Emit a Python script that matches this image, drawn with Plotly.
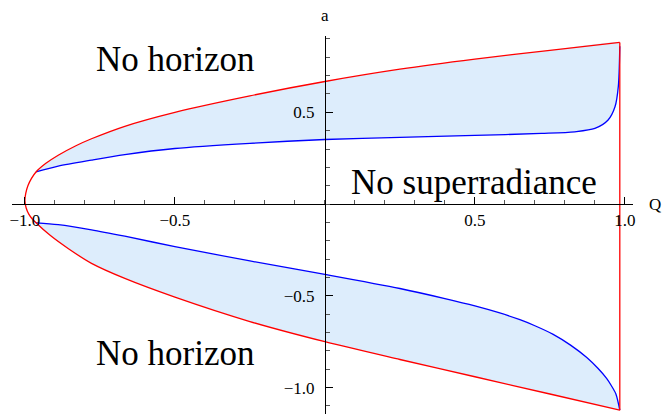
import plotly.graph_objects as go

# 邊界曲線（紅）：由頂點 Q=-1 出發的上支與下支，終點 Q=0.983
Q_up = [-1.0, -0.997, -0.99, -0.978, -0.963, -0.93, -0.889, -0.83, -0.778, -0.667, -0.5, -0.25, 0.0, 0.25, 0.5, 0.75, 0.983]
a_up = [0.02, 0.06, 0.1, 0.14, 0.175, 0.222, 0.266, 0.318, 0.356, 0.424, 0.50, 0.59, 0.668, 0.735, 0.79, 0.838, 0.881]
Q_lo = [-1.0, -0.996, -0.987, -0.976, -0.963, -0.917, -0.856, -0.778, -0.667, -0.5, -0.25, 0.0, 0.25, 0.5, 0.75, 0.983]
a_lo = [0.02, -0.02, -0.055, -0.08, -0.102, -0.169, -0.242, -0.323, -0.405, -0.507, -0.64, -0.75, -0.847, -0.941, -1.035, -1.123]

# 超輻射邊界（藍）
Qb_up = [-0.963, -0.889, -0.778, -0.667, -0.5, -0.25, 0.0, 0.25, 0.5, 0.722, 0.833, 0.9, 0.944, 0.967, 0.978, 0.983]
ab_up = [0.175, 0.207, 0.24, 0.27, 0.303, 0.331, 0.352, 0.364, 0.374, 0.385, 0.394, 0.412, 0.458, 0.53, 0.64, 0.86]
Qb_lo = [-0.963, -0.889, -0.778, -0.667, -0.5, -0.25, 0.0, 0.25, 0.4, 0.5, 0.58, 0.65, 0.7, 0.761, 0.82, 0.872, 0.91, 0.939, 0.955, 0.97, 0.983]
ab_lo = [-0.102, -0.112, -0.14, -0.175, -0.232, -0.31, -0.383, -0.46, -0.515, -0.555, -0.592, -0.63, -0.663, -0.71, -0.77, -0.835, -0.895, -0.95, -0.99, -1.035, -1.123]

x_ticks = [-1.0, -0.5, 0.5, 1.0]
x_labels = ['−1.0', '−0.5', '0.5', '1.0']
y_ticks = [-1.0, -0.5, 0.5]
y_labels = ['−1.0', '−0.5', '0.5']

x_range = [-1.043, 1.027]
y_range = [-1.144, 0.916]

fill_color = '#DDEDFC'
serif = 'Liberation Serif, Times New Roman, serif'

fig = go.Figure()

# 填色區域（紅線與藍線之間）
def band(Qr, ar, Qb, ab):
    xs = [q for q in Qr if q >= Qb[0]]
    ys = [a for q, a in zip(Qr, ar) if q >= Qb[0]]
    return xs + Qb[::-1], ys + ab[::-1]

for Qr, ar, Qb, ab in [(Q_up, a_up, Qb_up, ab_up), (Q_lo, a_lo, Qb_lo, ab_lo)]:
    fx, fy = band(Qr, ar, Qb, ab)
    fig.add_trace(go.Scatter(x=fx, y=fy, fill='toself', fillcolor=fill_color,
                             mode='lines', line=dict(width=0, shape='spline', smoothing=0.6),
                             hoverinfo='skip', showlegend=False))

# 藍線
for Qb, ab in [(Qb_up, ab_up), (Qb_lo, ab_lo)]:
    fig.add_trace(go.Scatter(x=Qb, y=ab, mode='lines',
                             line=dict(color='blue', width=1.3, shape='spline', smoothing=0.8),
                             showlegend=False))

# 紅線（曲線 + 右側垂直邊）
fig.add_trace(go.Scatter(x=Q_lo[::-1] + Q_up[1:], y=a_lo[::-1] + a_up[1:], mode='lines',
                         line=dict(color='red', width=1.3, shape='spline', smoothing=0.8),
                         showlegend=False))
fig.add_trace(go.Scatter(x=[Q_up[-1], Q_lo[-1]], y=[a_up[-1], a_lo[-1]], mode='lines',
                         line=dict(color='red', width=1.3), showlegend=False))

x_pos = (0 - x_range[0]) / (x_range[1] - x_range[0])
y_pos = (0 - y_range[0]) / (y_range[1] - y_range[0])

fig.update_layout(
    width=662, height=416,
    margin=dict(l=12, r=29, t=36, b=2),
    plot_bgcolor='white', paper_bgcolor='white',
    font=dict(family=serif, size=17, color='black'),
    xaxis=dict(range=x_range, anchor='free', position=y_pos, showgrid=False, zeroline=False,
               showline=True, linecolor='black', linewidth=1,
               tickmode='array', tickvals=x_ticks, ticktext=x_labels,
               ticks='inside', ticklen=7, tickcolor='black', ticklabelstandoff=1,
               minor=dict(dtick=0.1, tick0=0, ticks='inside', ticklen=4, tickcolor='#555')),
    yaxis=dict(range=y_range, anchor='free', position=x_pos, showgrid=False, zeroline=False,
               showline=True, linecolor='black', linewidth=1,
               tickmode='array', tickvals=y_ticks, ticktext=y_labels,
               ticks='inside', ticklen=7, tickcolor='black', ticklabelstandoff=7,
               minor=dict(dtick=0.1, tick0=0, ticks='inside', ticklen=4, tickcolor='#555')),
)

# 文字標註
big = dict(family=serif, size=35, color='black')
fig.add_annotation(x=-0.5, y=0.79, text='No horizon', showarrow=False, font=big)
fig.add_annotation(x=0.497, y=0.118, text='No superradiance', showarrow=False, font=big)
fig.add_annotation(x=-0.5, y=-0.814, text='No horizon', showarrow=False, font=big)
fig.add_annotation(xref='paper', yref='paper', x=x_pos, y=1, yshift=21, yanchor='middle',
                   text='a', showarrow=False, font=dict(family=serif, size=17))
fig.add_annotation(xref='paper', yref='paper', x=1.035, y=y_pos, xanchor='center', yanchor='middle',
                   text='Q', showarrow=False, font=dict(family=serif, size=17))

# 去掉頁面 body 預設的 8px 邊距，讓圖貼齊視窗；隱藏工具列
fig.write_html("out.html", config={'displayModeBar': False},
               post_script="document.body.style.margin='0';")
